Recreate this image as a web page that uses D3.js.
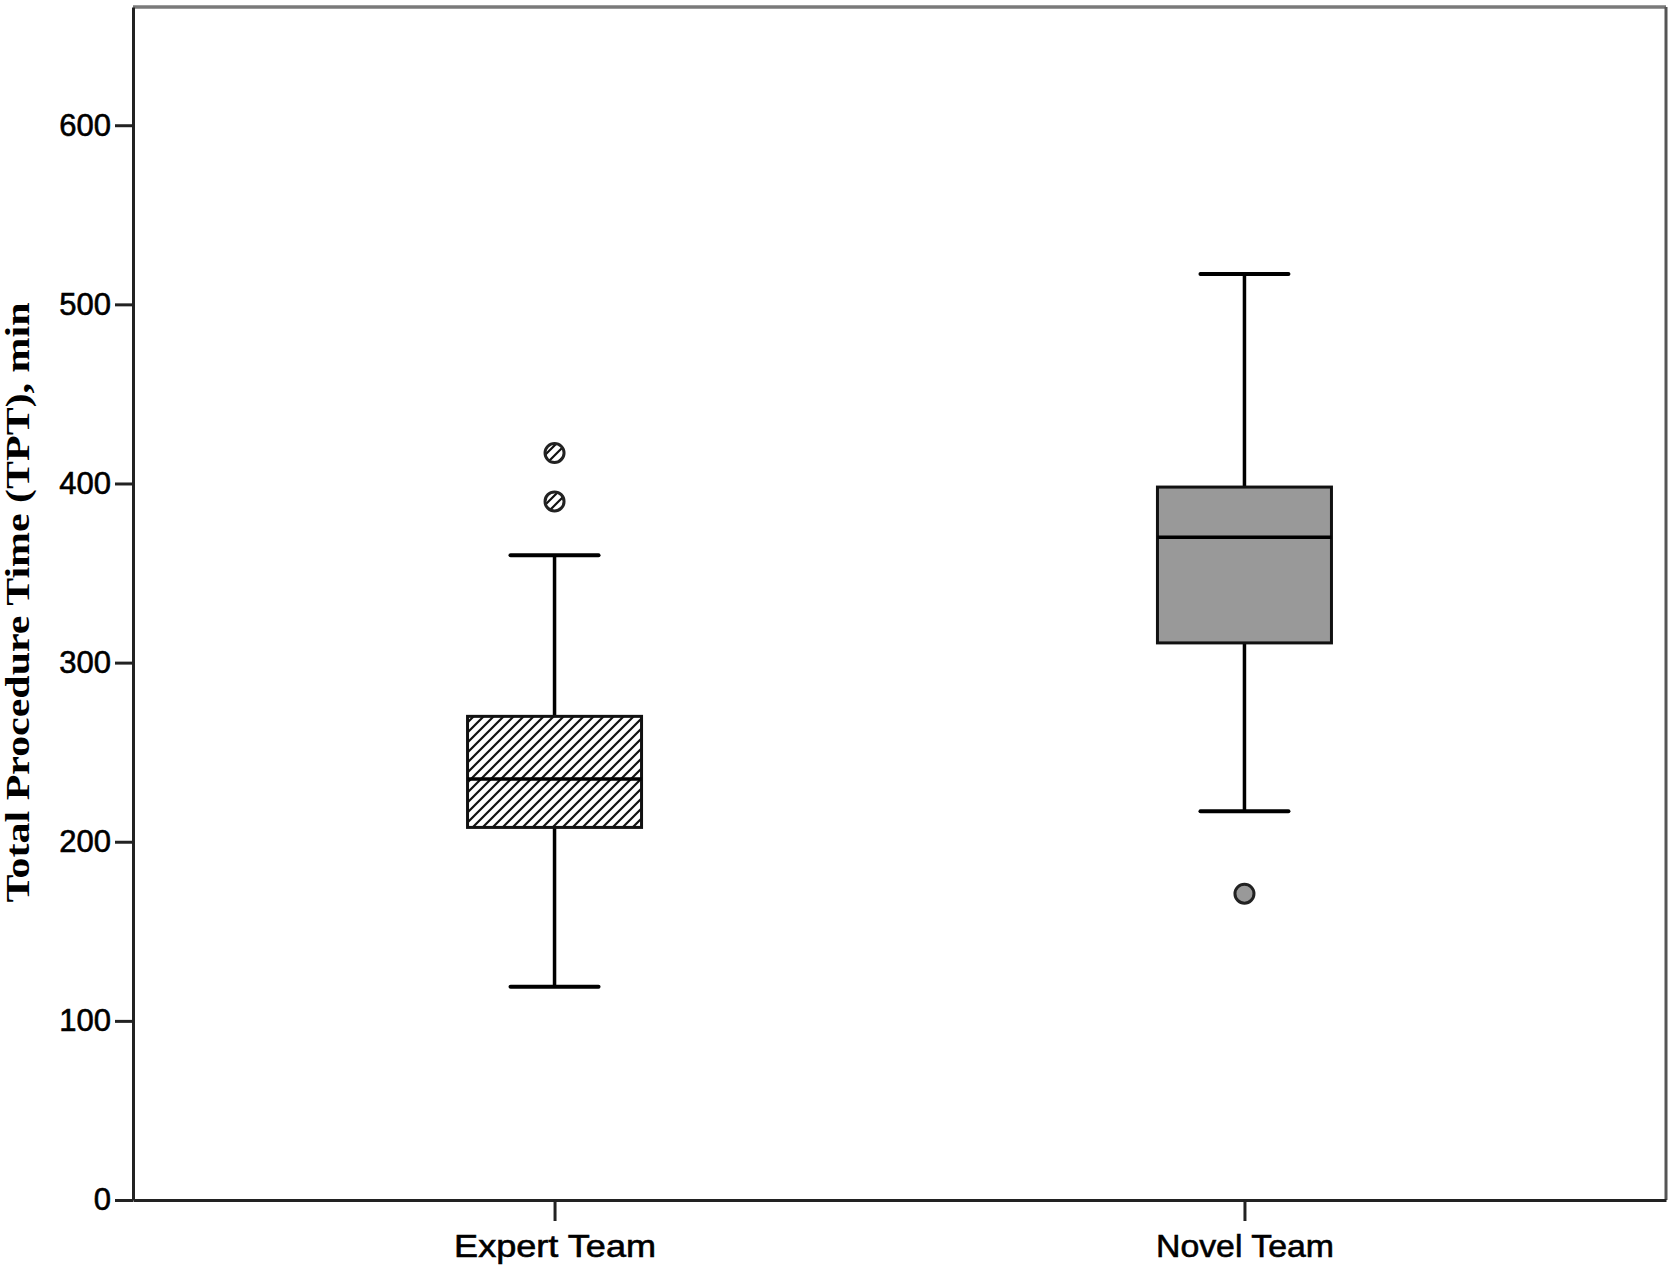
<!DOCTYPE html>
<html>
<head>
<meta charset="utf-8">
<script src="https://cdn.jsdelivr.net/npm/d3@7"></script>
<style>
  html, body { margin: 0; padding: 0; background: #fff; }
  svg { display: block; }
</style>
</head>
<body>
<svg id="chart" width="1675" height="1272"></svg>
<script>
// ---- data ----
const categories = ["Expert Team", "Novel Team"];
const whiskerLow = [119, 217];
const q1 = [208, 311];
const median = [235, 370];
const q3 = [270, 398];
const whiskerHigh = [360, 517];
const outliers = [[417, 390], [171]];
const yTicks = [0, 100, 200, 300, 400, 500, 600];
const yTitle = "Total Procedure Time (TPT), min";

// ---- layout ----
const plotLeft = 133, plotRight = 1666, plotTop = 7, plotBottom = 1200;

const svg = d3.select("#chart");

const defs = svg.append("defs");
const pat = defs.append("pattern")
  .attr("id", "hatch")
  .attr("patternUnits", "userSpaceOnUse")
  .attr("width", 10).attr("height", 10);
pat.append("rect").attr("width", 10).attr("height", 10).attr("fill", "#fff");
pat.append("path")
  .attr("d", "M-2,2 L2,-2 M0,10 L10,0 M8,12 L12,8")
  .attr("stroke", "#111").attr("stroke-width", 2.2);

const y = d3.scaleLinear().domain([0, 666]).range([plotBottom, plotTop]);
const x = d3.scalePoint().domain(categories).range([plotLeft, plotRight]).padding(0.611);

const boxW = 174, capW = 88;
const fills = ["url(#hatch)", "#999999"];
const outFills = ["url(#hatch)", "#999999"];

// frame: top and right
svg.append("line").attr("x1", plotLeft).attr("x2", plotRight).attr("y1", plotTop).attr("y2", plotTop)
  .attr("stroke", "#7a7a7a").attr("stroke-width", 3.5);
svg.append("line").attr("x1", plotRight).attr("x2", plotRight).attr("y1", plotTop).attr("y2", plotBottom)
  .attr("stroke", "#555").attr("stroke-width", 3);

// axes
const yAxis = svg.append("g")
  .attr("transform", `translate(${plotLeft},0)`)
  .call(d3.axisLeft(y).tickValues(yTicks).tickSize(18).tickPadding(4).tickSizeOuter(0));
yAxis.select(".domain").attr("stroke", "#222").attr("stroke-width", 3);
yAxis.selectAll(".tick line").attr("stroke", "#222").attr("stroke-width", 3);
yAxis.selectAll(".tick text")
  .attr("font-family", "Liberation Sans, Arial, sans-serif")
  .attr("font-size", 31).attr("fill", "#000")
  .attr("stroke", "#000").attr("stroke-width", 0.6);

const xAxis = svg.append("g")
  .attr("transform", `translate(0,${plotBottom})`)
  .call(d3.axisBottom(x).tickSize(21).tickPadding(13).tickSizeOuter(0));
xAxis.select(".domain").attr("stroke", "#222").attr("stroke-width", 3);
xAxis.selectAll(".tick line").attr("stroke", "#222").attr("stroke-width", 3);
xAxis.selectAll(".tick text")
  .attr("font-family", "Liberation Sans, Arial, sans-serif")
  .attr("font-size", 32).attr("fill", "#000")
  .attr("stroke", "#000").attr("stroke-width", 0.6)
  .attr("textLength", (d, i) => i === 0 ? 202 : 178)
  .attr("lengthAdjust", "spacingAndGlyphs");

// y title
svg.append("text")
  .attr("transform", `translate(29,${(302 + 903) / 2}) rotate(-90)`)
  .attr("text-anchor", "middle")
  .attr("font-family", "Liberation Serif, Times New Roman, serif")
  .attr("font-weight", "bold")
  .attr("font-size", 34)
  .attr("textLength", 600)
  .attr("lengthAdjust", "spacingAndGlyphs")
  .attr("fill", "#000")
  .text(yTitle);

// boxes
const g = svg.append("g");
categories.forEach((c, i) => {
  const cx = x(c);
  g.append("line").attr("x1", cx).attr("x2", cx)
    .attr("y1", y(q3[i])).attr("y2", y(whiskerHigh[i]))
    .attr("stroke", "#000").attr("stroke-width", 3.5);
  g.append("line").attr("x1", cx).attr("x2", cx)
    .attr("y1", y(q1[i])).attr("y2", y(whiskerLow[i]))
    .attr("stroke", "#000").attr("stroke-width", 3.5);
  [whiskerHigh[i], whiskerLow[i]].forEach(v => {
    g.append("line").attr("x1", cx - capW / 2).attr("x2", cx + capW / 2)
      .attr("y1", y(v)).attr("y2", y(v))
      .attr("stroke", "#000").attr("stroke-width", 4).attr("stroke-linecap", "round");
  });
  g.append("rect")
    .attr("x", cx - boxW / 2).attr("width", boxW)
    .attr("y", y(q3[i])).attr("height", y(q1[i]) - y(q3[i]))
    .attr("fill", fills[i]).attr("stroke", "#111").attr("stroke-width", 3);
  g.append("line").attr("x1", cx - boxW / 2).attr("x2", cx + boxW / 2)
    .attr("y1", y(median[i])).attr("y2", y(median[i]))
    .attr("stroke", "#000").attr("stroke-width", 3.5);
  outliers[i].forEach(v => {
    g.append("circle").attr("cx", cx).attr("cy", y(v)).attr("r", 9.5)
      .attr("fill", outFills[i]).attr("stroke", "#222").attr("stroke-width", 3);
  });
});
</script>
</body>
</html>
